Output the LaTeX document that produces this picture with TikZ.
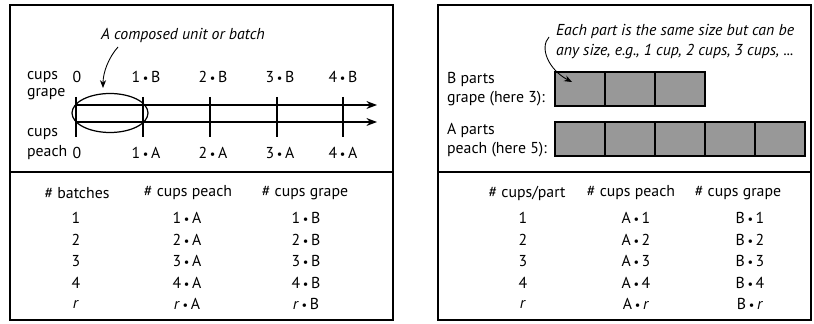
\documentclass[tikz,border=0pt]{standalone}
\usepackage{fontspec}
\setmainfont{PT Sans}
\usetikzlibrary{arrows.meta,positioning,shapes.geometric}
\definecolor{partfill}{HTML}{989898}
\newcommand{\tms}{\,{\scriptsize\textbullet}\,}

\begin{document}
\begin{tikzpicture}[x=0.02cm,y=-0.02cm,
  every node/.style={font=\fontsize{9}{10.8}\selectfont,inner sep=1pt},
  panel/.style={draw,line width=1.1pt},
  lbl/.style={anchor=west,align=left},
  note/.style={font=\fontsize{9}{11.3}\selectfont\itshape},
  cell/.style={draw,line width=1pt,fill=partfill,minimum width=1cm,minimum height=0.68cm,inner sep=0pt,outer sep=0pt},
  axis/.style={line width=0.8pt,-{Stealth[length=6pt,width=4.5pt]}},
  pointer/.style={line width=0.5pt,-{Stealth[length=4.5pt,width=3.5pt]}},
]
  \useasboundingbox (0,0) rectangle (814,324);

  % Left panel: double number line
  \draw[panel] (10,5) rectangle (393,320);
  \draw[line width=1.6pt] (10,172) -- (393,172);

  \node[note] (batch) at (183,35) {A composed unit or batch};
  \node[draw,ellipse,line width=0.7pt,minimum width=1.52cm,minimum height=0.78cm,inner sep=0pt] (unit) at (110,113) {};
  \coordinate (batchtail) at (118,47);
  \coordinate (batchtip) at (103,88);
  \draw[pointer] (batchtail) .. controls (109,57) and (103,72) .. (batchtip);

  \coordinate (grape0) at (76,105);
  \coordinate (grapeend) at (377,105);
  \coordinate (peach0) at (76,122);
  \coordinate (peachend) at (377,122);
  \draw[axis] (grape0) -- (grapeend);
  \draw[axis] (peach0) -- (peachend);
  \foreach \x/\w in {76/0.8,143/1.2,210/1.5,277/0.8,343/1.5}
    \draw[line width=\w pt] (\x,97) -- (\x,137);

  \node[lbl] (cupsG) at (25,77) {cups};
  \node[lbl] (grapeG) at (25,94) {grape};
  \node[lbl] (cupsP) at (25,134) {cups};
  \node[lbl] (peachP) at (25,153) {peach};

  \node (gz) at (77,77) {0};
  \node (g1) at (146,77) {1\tms B};
  \node (g2) at (213,77) {2\tms B};
  \node (g3) at (280,77) {3\tms B};
  \node (g4) at (343,77) {4\tms B};
  \node (pz) at (77,153) {0};
  \node (p1) at (146,153) {1\tms A};
  \node (p2) at (213,153) {2\tms A};
  \node (p3) at (280,153) {3\tms A};
  \node (p4) at (343,153) {4\tms A};

  % Left table
  \node (hbatch) at (77,193) {\# batches};
  \node (hpeachL) at (188,193) {\# cups peach};
  \node (hgrapeL) at (305,193) {\# cups grape};
  \foreach \i/\n/\y in {1/1/218,2/2/239.5,3/3/261,4/4/282.5,5/\textit{r}/304} {
    \node (batchN\i) at (76,\y) {\n};
    \node (peachL\i) at (187,\y) {\n\tms A};
    \node (grapeL\i) at (306,\y) {\n\tms B};
  }

  % Right panel: tape diagram
  \draw[panel] (438,5) rectangle (811,320);
  \draw[line width=1.6pt] (438,172) -- (811,172);

  \node[note,anchor=west,align=left] (size) at (554,42) {Each part is the same size but can be\\any size, e.g., 1 cup, 2 cups, 3 cups, ...};

  \node[lbl] (bparts) at (445,89) {B parts\\grape (here 3):};
  \node[lbl] (aparts) at (445,140) {A parts\\peach (here 5):};

  \node[cell] (b1) at (580,89) {};
  \node[cell,right=0pt of b1] (b2) {};
  \node[cell,right=0pt of b2] (b3) {};
  \node[cell] (a1) at (580,139) {};
  \node[cell,right=0pt of a1] (a2) {};
  \node[cell,right=0pt of a2] (a3) {};
  \node[cell,right=0pt of a3] (a4) {};
  \node[cell,right=0pt of a4] (a5) {};

  \coordinate (sizetail) at (549,37);
  \coordinate (sizetip) at (572,82);
  \draw[pointer] (sizetail) .. controls (539,48) and (549,70) .. (sizetip);

  % Right table
  \node (hpart) at (527,193) {\# cups/part};
  \node (hpeachR) at (631,193) {\# cups peach};
  \node (hgrapeR) at (738,193) {\# cups grape};
  \foreach \i/\n/\y in {1/1/218,2/2/239.5,3/3/261,4/4/282.5,5/\textit{r}/304} {
    \node (partN\i) at (523,\y) {\n};
    \node (peachR\i) at (636,\y) {A\tms\n};
    \node (grapeR\i) at (750,\y) {B\tms\n};
  }
\end{tikzpicture}
\end{document}
